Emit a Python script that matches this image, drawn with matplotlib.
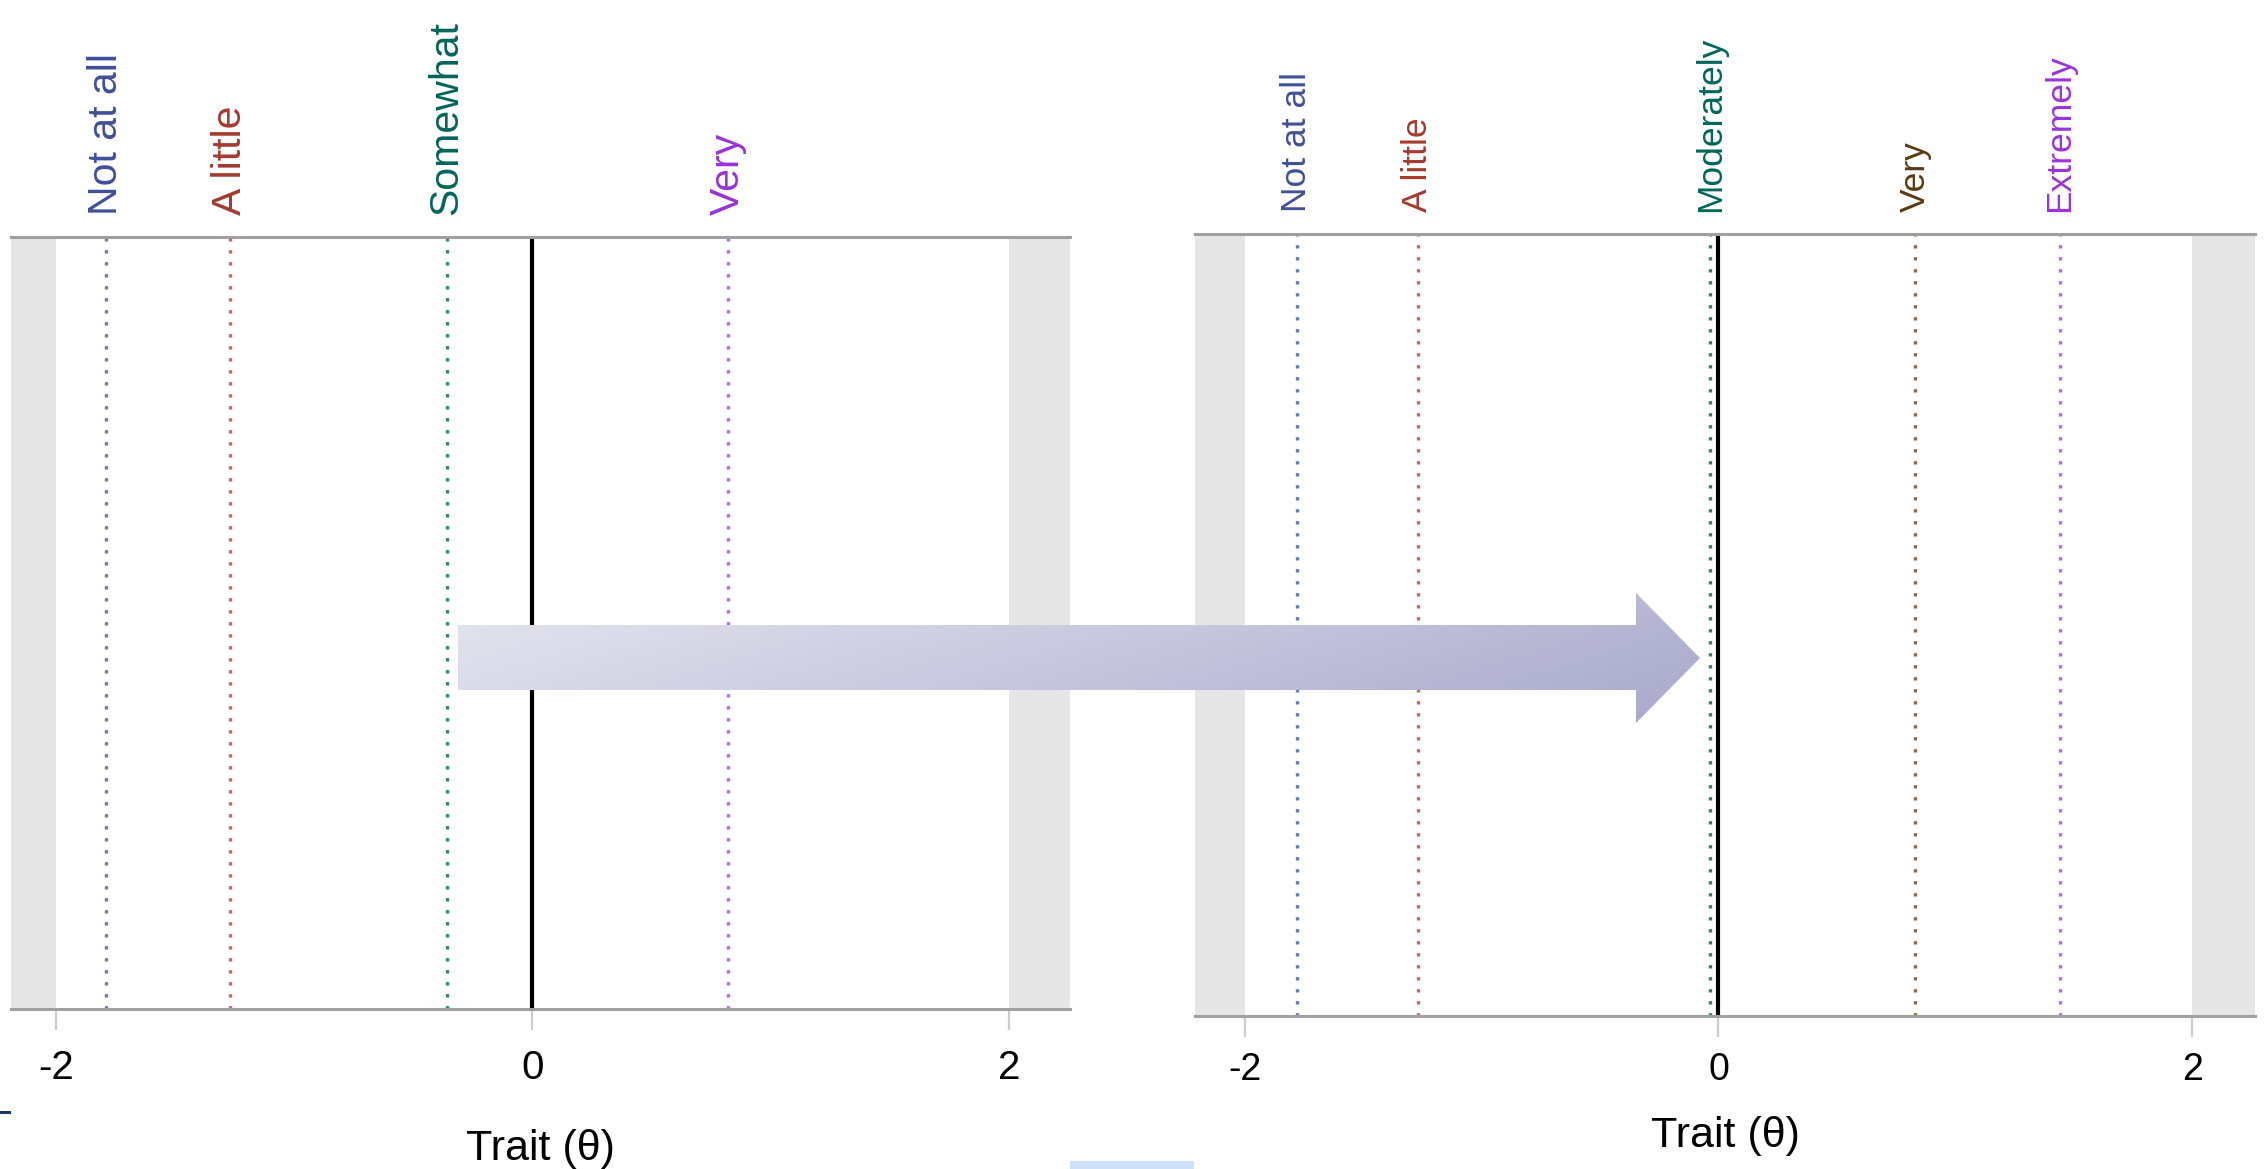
import matplotlib
matplotlib.use("Agg")
import matplotlib.pyplot as plt
from matplotlib.patches import Polygon, Rectangle
import numpy as np

plt.rcParams['font.family'] = ['Liberation Sans', 'DejaVu Sans']

# thresholds (theta scale)
left_labels = ['Not at all', 'A little', 'Somewhat', 'Very']
left_thresholds = [-1.79, -1.27, -0.36, 0.82]
left_line_colors = ['#6b78b8', '#c4675d', '#2f8276', '#b569ea']
left_text_colors = ['#3f4f99', '#a53a2e', '#00665a', '#9933dd']

right_labels = ['Not at all', 'A little', 'Moderately', 'Very', 'Extremely']
right_thresholds = [-1.78, -1.27, -0.035, 0.83, 1.44]
right_line_colors = ['#6b78b8', '#c4675d', '#2f8276', '#85694a', '#b569ea']
right_text_colors = ['#3f4f99', '#a53a2e', '#00665a', '#5a3a10', '#9933dd']

trait_mean = 0.0
tick_values = [-2, 0, 2]
xlabel = 'Trait (θ)'

W, H = 2267, 1169
fig = plt.figure(figsize=(W / 100, H / 100), dpi=100)


def panel(rect, xlim, labels, thresholds, line_colors, text_colors,
          label_size, tick_size, tick_pad, xlabel_pad):
    ax = fig.add_axes(rect)
    ax.set_xlim(*xlim)
    ax.set_ylim(0, 1)
    # grey margins outside the -2..2 range
    ax.axvspan(xlim[0], -2, color='#e6e6e6', lw=0)
    ax.axvspan(2, xlim[1], color='#e6e6e6', lw=0)
    for x, lab, lc, tc in zip(thresholds, labels, line_colors, text_colors):
        ax.axvline(x, color=lc, ls=(0, (1, 2.6)), lw=2.4)
        ax.annotate(lab, xy=(x, 1), xycoords=('data', 'axes fraction'),
                    xytext=(0, 16), textcoords='offset points',
                    rotation=90, ha='center', va='bottom',
                    color=tc, fontsize=label_size)
    ax.axvline(trait_mean, color='black', lw=3)
    for s in ['left', 'right']:
        ax.spines[s].set_visible(False)
    for s in ['top', 'bottom']:
        ax.spines[s].set_color('#a0a0a0')
        ax.spines[s].set_linewidth(2.2)
    ax.set_yticks([])
    ax.set_xticks(tick_values)
    ax.set_xticklabels([str(t) for t in tick_values])
    ax.tick_params(axis='x', length=15, width=1.6, color='#cccccc',
                   pad=tick_pad, labelsize=tick_size)
    ax.set_xlabel(xlabel, fontsize=31, labelpad=xlabel_pad)
    return ax


panel([11 / W, 1 - 1009 / H, (1070 - 11) / W, (1009 - 237) / H],
      (-2.188, 2.256), left_labels, left_thresholds,
      left_line_colors, left_text_colors,
      label_size=29.5, tick_size=29, tick_pad=14, xlabel_pad=30)
panel([1195 / W, 1 - 1016 / H, (2255 - 1195) / W, (1016 - 234) / H],
      (-2.21, 2.265), right_labels, right_thresholds,
      right_line_colors, right_text_colors,
      label_size=25.5, tick_size=27, tick_pad=11, xlabel_pad=20)

# overlay in pixel coordinates for the arrow and small screen marks
ov = fig.add_axes([0, 0, 1, 1], zorder=5)
ov.set_xlim(0, W)
ov.set_ylim(H, 0)
ov.axis('off')

arrow_pts = [(458, 625), (1636, 625), (1636, 593), (1700, 658),
             (1636, 723), (1636, 690), (458, 690)]
arrow = Polygon(arrow_pts, closed=True, facecolor='none', edgecolor='none')
ov.add_patch(arrow)
gx, gy = np.meshgrid(np.linspace(0, 1, 300), np.linspace(0, 1, 60))
t = (gx * 0.75 + gy * 0.25)[..., None]
c0 = np.array([0xe6, 0xe6, 0xf0]) / 255
c1 = np.array([0xa8, 0xa8, 0xcc]) / 255
grad = c0 * (1 - t) + c1 * t
img = ov.imshow(grad, extent=(458, 1700, 723, 593), aspect='auto',
                interpolation='bilinear')
img.set_clip_path(arrow)

ov.add_patch(Rectangle((1070, 1161), 124, 8, color='#cfe0fb', lw=0))
ov.add_patch(Rectangle((0, 1111), 11, 3, color='#1a3a6a', lw=0))

fig.savefig('out.png', dpi=100)
